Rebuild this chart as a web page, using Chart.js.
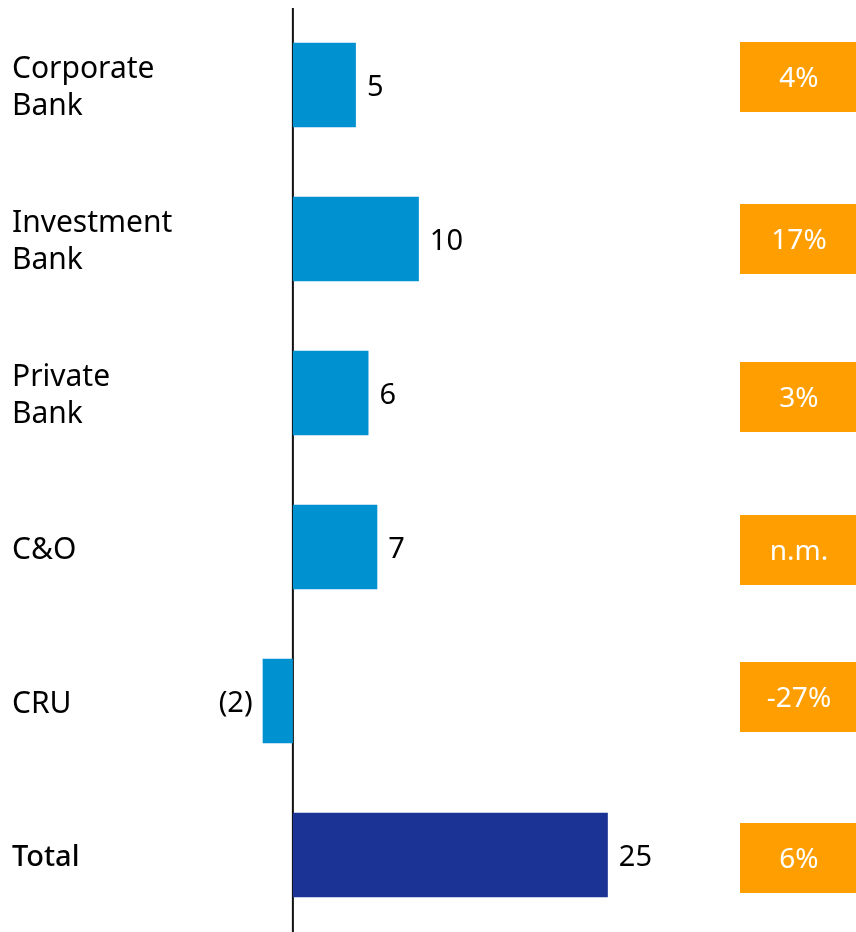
<!DOCTYPE html>
<html>
<head>
<meta charset="utf-8">
<script src="https://cdn.jsdelivr.net/npm/chart.js@4/dist/chart.umd.min.js"></script>
<style>
  html, body { margin: 0; padding: 0; background: #fff; }
  #wrap { width: 856px; height: 932px; }
</style>
</head>
<body>
<div id="wrap"><canvas id="grafico"></canvas></div>
<script>
// datos
const categorias = [['Corporate', 'Bank'], ['Investment', 'Bank'], ['Private', 'Bank'], ['C&O'], ['CRU'], ['Total']];
const valores = [5, 10, 6, 6.7, -2.4, 25];
const etiquetasValor = ['5', '10', '6', '7', '(2)', '25'];
const porcentajes = ['4%', '17%', '3%', 'n.m.', '-27%', '6%'];

// desplazamiento vertical de las cajas naranjas respecto al centro de la fila
const desplCaja = [-8, 0, 4, 3, -4, 3];

const FUENTE = '"Noto Sans", sans-serif';

const etiquetasPlugin = {
    id: 'etiquetas',
    beforeDatasetsDraw(chart) {
        const ctx = chart.ctx;
        const x = chart.scales.x;
        const area = chart.chartArea;
        const x0 = x.getPixelForValue(0);
        ctx.save();
        ctx.strokeStyle = '#111';
        ctx.lineWidth = 2;
        ctx.beginPath();
        ctx.moveTo(x0, area.top);
        ctx.lineTo(x0, chart.height);
        ctx.stroke();
        ctx.restore();
    },
    afterDatasetsDraw(chart) {
        const ctx = chart.ctx;
        const x = chart.scales.x;
        const y = chart.scales.y;
        ctx.save();
        ctx.textBaseline = 'middle';
        categorias.forEach((lineas, i) => {
            const yc = y.getPixelForValue(i) + 3;
            // categoria
            ctx.fillStyle = '#000';
            ctx.textAlign = 'left';
            ctx.font = (i === categorias.length - 1 ? '500 29px ' : '30px ') + FUENTE;
            const alto = 37;
            const inicio = yc - (lineas.length - 1) * alto / 2;
            lineas.forEach((t, j) => ctx.fillText(t, 12, inicio + j * alto));

            // valor
            ctx.font = '29px ' + FUENTE;
            const xv = x.getPixelForValue(valores[i]);
            if (valores[i] >= 0) {
                ctx.textAlign = 'left';
                ctx.fillText(etiquetasValor[i], xv + 11, yc);
            } else {
                ctx.textAlign = 'right';
                ctx.fillText(etiquetasValor[i], xv - 10, yc);
            }

            // caja naranja
            const cy = y.getPixelForValue(i) + desplCaja[i];
            ctx.fillStyle = '#FF9E00';
            ctx.fillRect(740, cy - 35, 116, 70);
            ctx.fillStyle = '#fff';
            ctx.textAlign = 'center';
            ctx.font = '28px ' + FUENTE;
            ctx.fillText(porcentajes[i], 799, cy + 2);
        });
        ctx.restore();
    }
};

const ctx = document.getElementById('grafico').getContext('2d');
new Chart(ctx, {
    type: 'bar',
    data: {
        labels: categorias,
        datasets: [{
            data: valores,
            backgroundColor: valores.map((v, i) => i === valores.length - 1 ? '#1B3394' : '#0091D0'),
            borderWidth: 0,
            barPercentage: 0.55,
            categoryPercentage: 1
        }]
    },
    options: {
        indexAxis: 'y',
        responsive: true,
        maintainAspectRatio: false,
        animation: false,
        layout: { padding: { top: 8, left: 0, right: 0, bottom: 0 } },
        plugins: {
            legend: { display: false },
            tooltip: { enabled: false }
        },
        scales: {
            x: { display: false, min: -23.25, max: 44.7 },
            y: { display: false }
        }
    },
    plugins: [etiquetasPlugin]
});
</script>
</body>
</html>
